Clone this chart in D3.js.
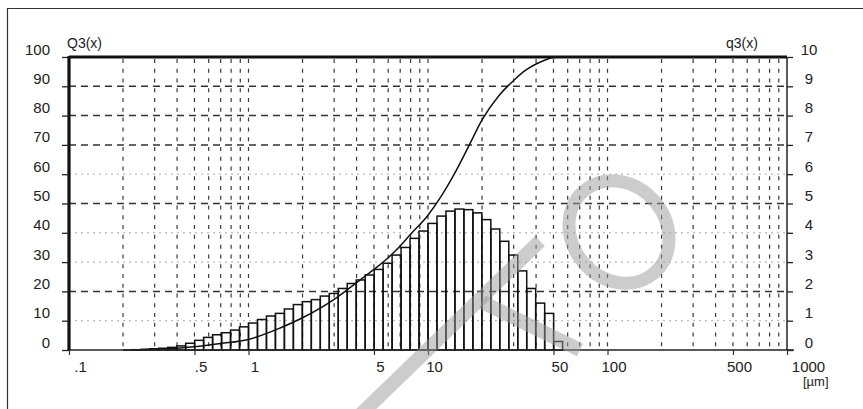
<!DOCTYPE html>
<html>
<head>
<meta charset="utf-8">
<script src="https://cdn.jsdelivr.net/npm/d3@7"></script>
<style>
  html, body { margin: 0; padding: 0; background: #fff; }
  svg { display: block; }
  text { font-family: "Liberation Sans", Arial, sans-serif; fill: #222; }
</style>
</head>
<body>
<svg id="chart" width="863" height="409"></svg>
<script>
// Particle size classes: lower edge exponent k, class = [10^(k/20), 10^((k+1)/20)] µm
const classK = [-13,-12,-11,-10,-9,-8,-7,-6,-5,-4,-3,-2,-1,0,1,2,3,4,5,6,7,8,9,10,11,12,13,14,15,16,17,18,19,20,21,22,23,24,25,26,27,28,29,30,31,32,33,34];
// Density distribution q3(x) per class (right axis)
const q3Values = [0.01,0.02,0.04,0.06,0.09,0.14,0.23,0.33,0.43,0.52,0.59,0.68,0.79,0.92,1.04,1.16,1.25,1.40,1.55,1.65,1.72,1.84,1.93,2.10,2.27,2.39,2.56,2.75,2.96,3.24,3.50,3.81,4.06,4.32,4.57,4.74,4.81,4.79,4.68,4.45,4.13,3.71,3.24,2.70,2.10,1.60,1.25,0.29];

// Cumulative distribution Q3(x), left axis
const cumSize = [0.2,0.25,0.3,0.4,0.5,0.7,1,1.5,2,3,4,5,6,7,8,10,12,14,17,20,25,30,35,40,45,50,55,1000];
const cumQ3   = [0,0.1,0.3,0.6,1.1,2.2,3.6,7.5,11,17.3,23,27.5,31.5,35.5,39.5,46,53,60,70,78.5,87,92,95.5,97.6,99,99.8,100,100];

// Axis ticks and labels
const xLabelValues = [0.1,0.5,1,5,10,50,100,500,1000];
const xLabelText   = [".1",".5","1","5","10","50","100","500","1000"];
const leftTicks  = [0,10,20,30,40,50,60,70,80,90,100];
const rightTicks = [0,1,2,3,4,5,6,7,8,9,10];
const dashedLevels = [20,50,70,80,90];
const dottedLevels = [10,30,40,60];

const svg = d3.select("#chart");
const L = 69, R = 787, T = 57, B = 350;
const FONT = "Liberation Sans, Arial, sans-serif";

const x = d3.scaleLog().domain([0.1, 1000]).range([L, R]);
const yL = d3.scaleLinear().domain([0, 100]).range([B, T]);
const yR = d3.scaleLinear().domain([0, 10]).range([B, T]);

// outer frame
svg.append("path")
  .attr("d", "M7.5,409 V8.5 H863")
  .attr("fill", "none").attr("stroke", "#333").attr("stroke-width", 1.2);

// vertical log grid (2..10 of every decade)
const gridX = [];
for (let d = -1; d < 3; d++) {
  for (let m = 2; m <= 10; m++) gridX.push(m * Math.pow(10, d));
}
svg.append("g").selectAll("line").data(gridX.filter(v => v < 1000)).join("line")
  .attr("x1", d => x(d)).attr("x2", d => x(d))
  .attr("y1", T + 2).attr("y2", B)
  .attr("stroke", "#3a3a3a").attr("stroke-width", 1.2)
  .attr("stroke-dasharray", "4,5.77");

// horizontal grid
svg.append("g").selectAll("line").data(dottedLevels).join("line")
  .attr("x1", L).attr("x2", R).attr("y1", d => yL(d)).attr("y2", d => yL(d))
  .attr("stroke", "#aaa").attr("stroke-width", 1).attr("stroke-dasharray", "2,4");
svg.append("g").selectAll("line").data(dashedLevels).join("line")
  .attr("x1", L).attr("x2", R).attr("y1", d => yL(d)).attr("y2", d => yL(d))
  .attr("stroke", "#333").attr("stroke-width", 1.5).attr("stroke-dasharray", "7,5");

// histogram of q3
const bars = classK.map((k, i) => ({ lo: Math.pow(10, k / 20), hi: Math.pow(10, (k + 1) / 20), v: q3Values[i] }));
svg.append("g").selectAll("rect").data(bars).join("rect")
  .attr("x", d => x(d.lo)).attr("width", d => x(d.hi) - x(d.lo))
  .attr("y", d => yR(d.v)).attr("height", d => B - yR(d.v))
  .attr("fill", "none").attr("stroke", "#111").attr("stroke-width", 1.5);

// cumulative curve
const line = d3.line().x(d => x(d[0])).y(d => yL(d[1])).curve(d3.curveMonotoneX);
svg.append("path").datum(cumSize.map((s, i) => [s, cumQ3[i]]))
  .attr("d", line).attr("fill", "none").attr("stroke", "#111").attr("stroke-width", 1.5);

// axes frame
svg.append("line").attr("x1", L).attr("x2", R + 7).attr("y1", B).attr("y2", B)
  .attr("stroke", "#222").attr("stroke-width", 1.4);
svg.append("line").attr("x1", R).attr("x2", R).attr("y1", T).attr("y2", B)
  .attr("stroke", "#222").attr("stroke-width", 1.5);
svg.append("line").attr("x1", L).attr("x2", L).attr("y1", T - 1).attr("y2", B)
  .attr("stroke", "#111").attr("stroke-width", 3.2);
svg.append("line").attr("x1", L).attr("x2", R).attr("y1", T).attr("y2", T)
  .attr("stroke", "#111").attr("stroke-width", 3);

// left axis
const axL = d3.axisLeft(yL).tickValues(leftTicks).tickSize(7).tickPadding(12).tickFormat(d3.format("d"));
const gL = svg.append("g").attr("transform", `translate(${L},0)`).call(axL);
gL.select(".domain").remove();
gL.selectAll(".tick line").attr("stroke", "#222").attr("stroke-width", 1.3);
gL.selectAll(".tick text").attr("font-size", 15).attr("dy", -3).attr("fill", "#222")
  .attr("font-family", FONT);

// right axis
const axR = d3.axisRight(yR).tickValues(rightTicks).tickSize(6).tickPadding(0).tickFormat(d3.format("d"));
const gR = svg.append("g").attr("transform", `translate(${R},0)`).call(axR);
gR.select(".domain").remove();
gR.selectAll(".tick line").attr("stroke", "#222").attr("stroke-width", 1.3);
gR.selectAll(".tick text").attr("font-size", 15).attr("dy", -3).attr("x", 22)
  .attr("text-anchor", "middle").attr("fill", "#222")
  .attr("font-family", FONT);

// bottom axis
const shift = v => v === 0.1 ? 11 : v === 1000 ? 21 : 6;
const axB = d3.axisBottom(x).tickValues(xLabelValues).tickSize(5).tickPadding(6)
  .tickFormat((d, i) => xLabelText[i]);
const gB = svg.append("g").attr("transform", `translate(0,${B})`).call(axB);
gB.select(".domain").remove();
gB.selectAll(".tick line").attr("stroke", "#333").attr("stroke-width", 1.2);
gB.selectAll(".tick text").attr("font-size", 15).attr("fill", "#222")
  .attr("dx", d => shift(d))
  .attr("font-family", FONT);

// titles
svg.append("text").attr("x", 67).attr("y", 48).attr("font-size", 14).text("Q3(x)");
svg.append("text").attr("x", 726).attr("y", 48).attr("font-size", 14).text("q3(x)");
svg.append("text").attr("x", 803).attr("y", 386).attr("font-size", 13).text("[µm]");

// translucent grey watermark strokes laid over the plot
const wm = svg.append("g").attr("fill", "none").attr("stroke", "#9a9a9a")
  .attr("stroke-opacity", 0.5).attr("stroke-width", 14);
wm.append("line").attr("x1", 540).attr("y1", 241).attr("x2", 360).attr("y2", 415);
wm.append("line").attr("x1", 482).attr("y1", 302).attr("x2", 580).attr("y2", 350);
wm.append("ellipse").attr("cx", 619).attr("cy", 232).attr("rx", 54).attr("ry", 47)
  .attr("stroke-width", 13).attr("transform", "rotate(50,619,232)");
</script>
</body>
</html>
